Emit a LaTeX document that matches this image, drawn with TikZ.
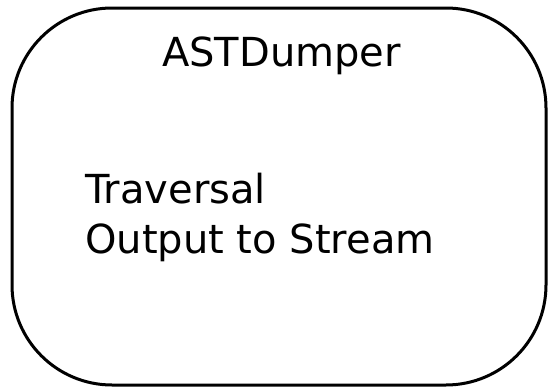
\documentclass[tikz,border=0pt]{standalone}
\usepackage{fontspec}
\setmainfont{DejaVu Sans}
\begin{document}
\begin{tikzpicture}[x=1pt,y=-1pt,
  box/.style={draw=black,line width=3pt,rounded corners=100pt},
  label/.style={inner sep=0pt,font=\fontsize{40}{50}\selectfont}]
\useasboundingbox (0,0) rectangle (549,388);
\draw[box] (12,8) rectangle (546,385);
\node[label,anchor=base] (title) at (281.5,66) {ASTDumper};
\node[label,anchor=base west] (trav) at (85,203) {Traversal};
\node[label,anchor=base west] (out) at (85,253) {Output to Stream};
\end{tikzpicture}
\end{document}
